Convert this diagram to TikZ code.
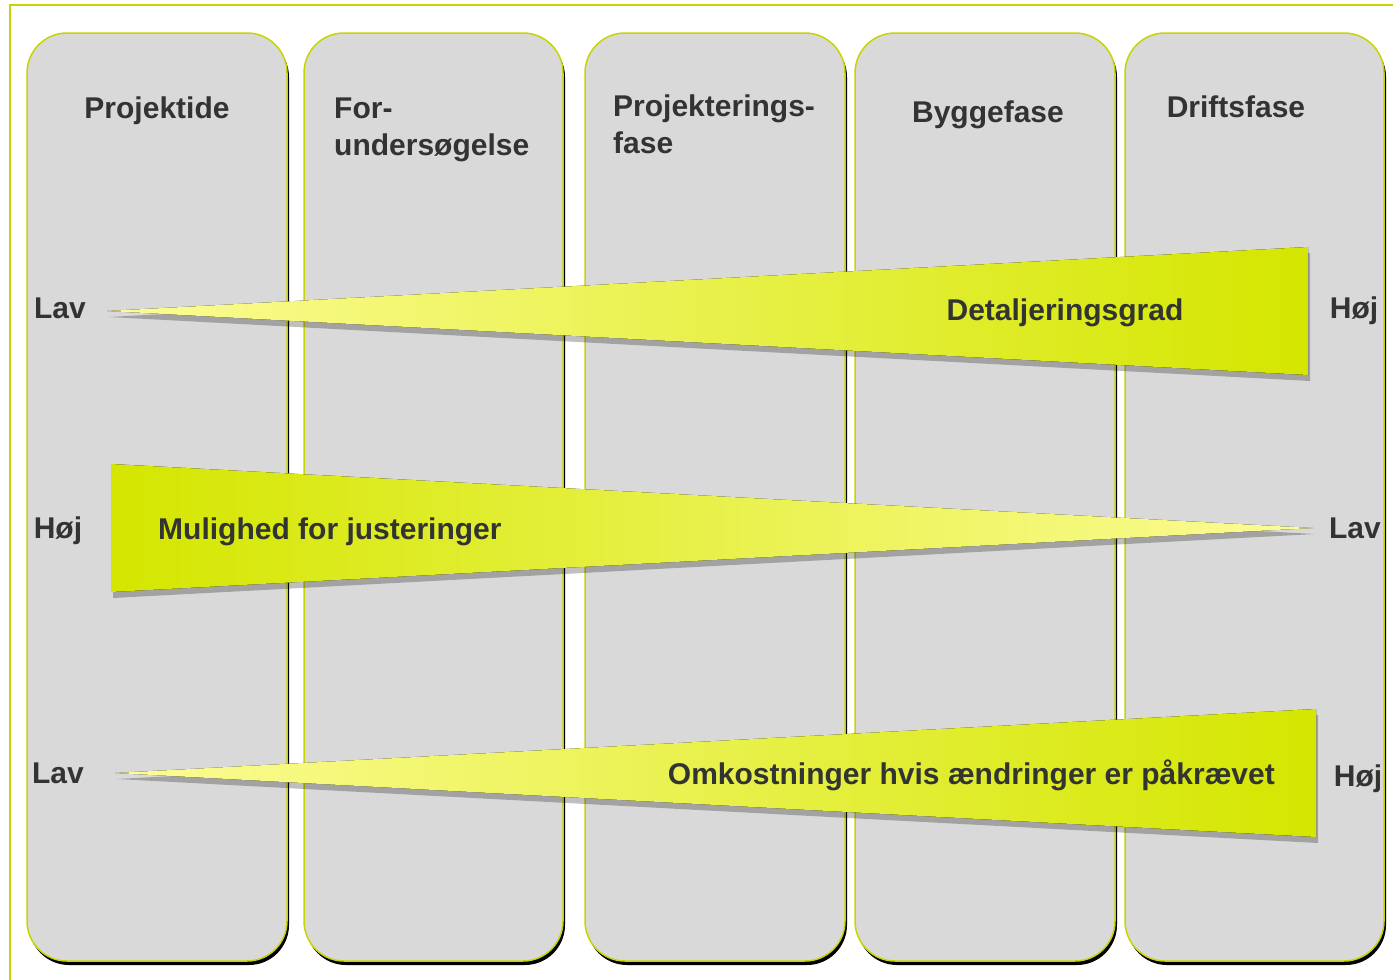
\documentclass[tikz,border=0pt]{standalone}
\usepackage{fontspec}
\setmainfont{Liberation Sans}
\usetikzlibrary{shadows}
\definecolor{limegreen}{RGB}{200,212,0}
\definecolor{colgray}{RGB}{217,217,217}
\definecolor{wedgetip}{RGB}{252,252,150}
\definecolor{wedgebase}{RGB}{212,230,0}
\definecolor{ink}{RGB}{50,52,50}

\begin{document}
\begin{tikzpicture}[x=1pt,y=-1pt,
  phase/.style={fill=colgray,draw=limegreen,line width=1.5pt,rounded corners=40pt,
    drop shadow={shadow xshift=2pt,shadow yshift=-4pt,fill=black,opacity=1}},
  wedge/.style={drop shadow={shadow xshift=2pt,shadow yshift=-6pt,fill=black,opacity=.25}},
  lbl/.style={font=\fontsize{30}{37}\selectfont\bfseries,text=ink,inner sep=0pt}]

\useasboundingbox (0,0) rectangle (1393,980);
\draw[limegreen,line width=1.5pt] (10,980) -- (10,5) -- (1393,5);

% phase columns
\foreach [count=\i] \a/\b in {27/287,304/563,585/845,855/1115,1125/1384}
\draw[phase] (\a,33) rectangle (\b,961);

\node[lbl,anchor=base] (h1) at (157,118) {Projektide};
\node[lbl,anchor=base west,align=left] (h2) at (334,155) {For-\\undersøgelse};
\node[lbl,anchor=base west,align=left] (h3) at (613,153) {Projekterings-\\fase};
\node[lbl,anchor=base] (h4) at (988,122) {Byggefase};
\node[lbl,anchor=base] (h5) at (1236,117) {Driftsfase};

% wedges
\fill[wedge,left color=wedgetip,right color=wedgebase] (107,311) -- (1308,247) -- (1308,375) -- cycle;
\fill[wedge,left color=wedgebase,right color=wedgetip] (111,464) -- (1313,528) -- (111,592) -- cycle;
\fill[wedge,left color=wedgetip,right color=wedgebase] (115,773) -- (1316,709) -- (1316,837) -- cycle;

\node[lbl,anchor=base] (detail) at (1065,320) {Detaljeringsgrad};
\node[lbl,anchor=base west] (adjust) at (158,539) {Mulighed for justeringer};
\node[lbl,anchor=base east] (cost) at (1275,784) {Omkostninger hvis ændringer er påkrævet};

\foreach \n/\x/\y/\t in {l1/60/318/Lav, r1/1354/318/Høj, l2/58/538/Høj, r2/1355/538/Lav, l3/58/783/Lav, r3/1358/786/Høj}
\node[lbl,anchor=base] (\n) at (\x,\y) {\t};

\end{tikzpicture}
\end{document}
